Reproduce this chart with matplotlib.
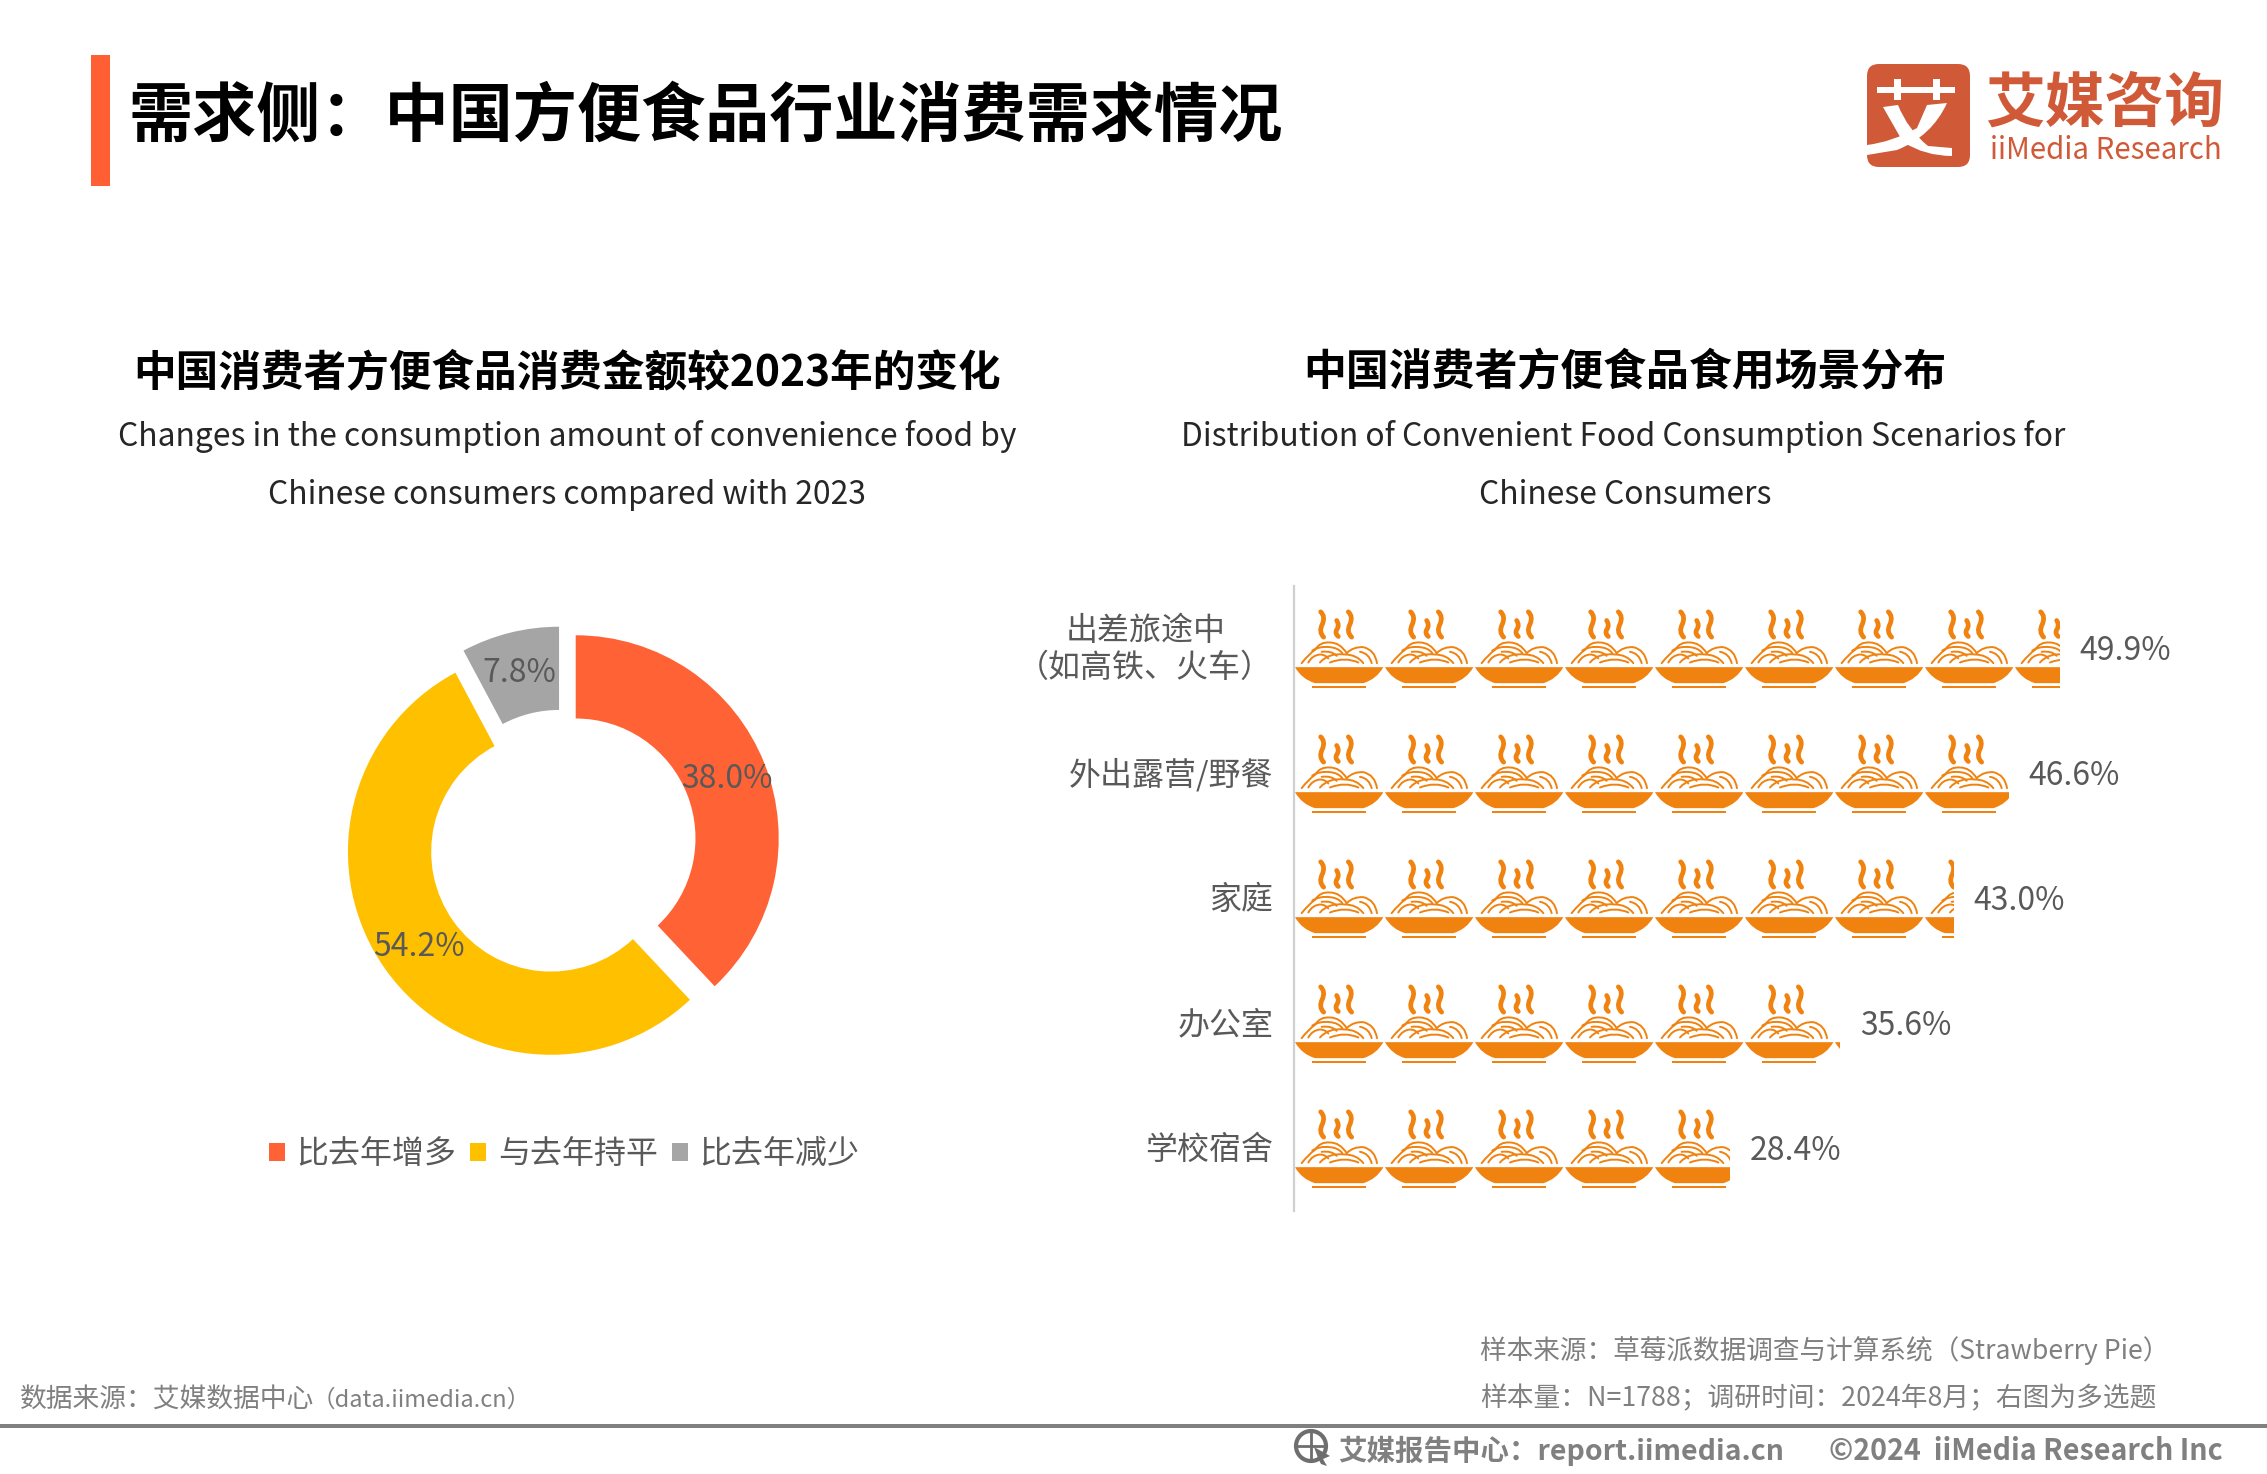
"""iiMedia slide: convenience food spending donut and scenario pictogram."""

import matplotlib
matplotlib.use("Agg")
import matplotlib.pyplot as plt
from matplotlib.patches import Circle, FancyBboxPatch, PathPatch, Rectangle
from matplotlib.path import Path
from matplotlib.transforms import Affine2D, ScaledTranslation

plt.rcParams["font.family"] = ["Noto Sans CJK SC", "DejaVu Sans"]

change_labels = ["比去年增多", "与去年持平", "比去年减少"]
change_values = [38.0, 54.2, 7.8]
change_colors = ["#FF6235", "#FFC000", "#A5A5A5"]

scene_labels = ["出差旅途中\n（如高铁、火车）", "外出露营/野餐", "家庭", "办公室", "学校宿舍"]
scene_values = [49.9, 46.6, 43.0, 35.6, 28.4]

W, H = 2267, 1474
ORANGE = "#F0820F"
GREY = "#595959"
FOOT = "#808080"
LOGO = "#D05A38"

fig = plt.figure(figsize=(W / 100, H / 100), dpi=100)

# page furniture is laid out in pixels
bg = fig.add_axes([0, 0, 1, 1])
bg.set_xlim(0, W)
bg.set_ylim(H, 0)
bg.axis("off")


def put(x, y, s, size, color="black", ha="left", weight="normal"):
    bg.text(x, y, s, fontsize=size, color=color, ha=ha, va="center", fontweight=weight)


bg.add_patch(Rectangle((91, 55), 19, 131, color="#FF5F33", lw=0))
put(129, 117, "需求侧：中国方便食品行业消费需求情况", 46.2, weight="bold")

put(567, 372, "中国消费者方便食品消费金额较2023年的变化", 30.7, ha="center", weight="bold")
put(567, 436, "Changes in the consumption amount of convenience food by", 22.95, "#262626", "center")
put(567, 495, "Chinese consumers compared with 2023", 22.95, "#262626", "center")
put(1625, 372, "中国消费者方便食品食用场景分布", 30.9, ha="center", weight="bold")
put(1623, 436, "Distribution of Convenient Food Consumption Scenarios for", 22.95, "#262626", "center")
put(1625, 495, "Chinese Consumers", 22.95, "#262626", "center")

# logo, the mark is a stylised glyph so it is traced instead of typeset
bg.add_patch(FancyBboxPatch((1875, 72), 87, 87, boxstyle="round,pad=8,rounding_size=12", color=LOGO, lw=0))
logo_shapes = [
    [(1877, 87), (1955, 87), (1955, 93), (1877, 93)],
    [(1894, 79), (1901, 79), (1901, 100), (1894, 100)],
    [(1933, 79), (1940, 79), (1940, 100), (1933, 100)],
]
for shape in logo_shapes:
    bg.add_patch(plt.Polygon(shape, color="white", lw=0))
swoosh_a = Path(
    [(1883, 107), (1898, 105), (1908, 130), (1928, 146), (1952, 148), (1952, 156),
     (1925, 156), (1903, 142), (1883, 107), (1883, 107)],
    [Path.MOVETO, Path.LINETO, Path.CURVE3, Path.CURVE3, Path.LINETO, Path.LINETO,
     Path.CURVE3, Path.CURVE3, Path.LINETO, Path.CLOSEPOLY],
)
swoosh_b = Path(
    [(1927, 105), (1947, 103), (1932, 136), (1897, 150), (1867, 155), (1867, 145),
     (1892, 142), (1917, 128), (1927, 105), (1927, 105)],
    [Path.MOVETO, Path.LINETO, Path.CURVE3, Path.CURVE3, Path.LINETO, Path.LINETO,
     Path.CURVE3, Path.CURVE3, Path.LINETO, Path.CLOSEPOLY],
)
bg.add_patch(PathPatch(swoosh_a, fc="white", lw=0))
bg.add_patch(PathPatch(swoosh_b, fc="white", lw=0))
put(1985, 105, "艾媒咨询", 43, LOGO, weight="bold")
put(1990, 150, "iiMedia Research", 21.2, LOGO)

# footer
put(20, 1400, "数据来源：艾媒数据中心", 19.3, FOOT)
put(312, 1400, "（data.iimedia.cn）", 17, FOOT)
put(1480, 1351, "样本来源：草莓派数据调查与计算系统（Strawberry Pie）", 19.2, FOOT)
put(1480, 1399, "样本量：N=1788；调研时间：2024年8月；右图为多选题", 19.25, FOOT)
bg.add_patch(Rectangle((0, 1424), W, 4, color=FOOT, lw=0))
put(1338, 1451, "艾媒报告中心：report.iimedia.cn", 20.5, FOOT, weight="bold")
put(1829, 1451, "©2024  iiMedia Research Inc", 20.6, FOOT, weight="bold")
bg.add_patch(Circle((1311, 1446), 15, fc="none", ec="#6E6E6E", lw=3))
bg.plot([1297, 1325], [1446, 1446], color="#6E6E6E", lw=2)
bg.plot([1311, 1311], [1431, 1461], color="#6E6E6E", lw=2)
bg.add_patch(plt.Polygon([(1314, 1447), (1330, 1456), (1323, 1459), (1327, 1466), (1321, 1464), (1318, 1458)],
                         color="#6E6E6E", lw=0))

# donut, pie keeps its +-1.25 limits so the axes size sets the radius
r_px = 203
box = 2.5 * r_px
donut = fig.add_axes([(562.5 - box / 2) / W, 1 - (843.5 + box / 2) / H, box / W, box / H])
wedges, _, pct = donut.pie(
    change_values, colors=change_colors, startangle=90, counterclock=False,
    explode=[0.07, 0.07, 0.07], autopct="%.1f%%", pctdistance=0.8,
    wedgeprops={"width": 0.41, "linewidth": 0},
    textprops={"fontsize": 23, "color": GREY},
)
for t in pct:
    tx, ty = t.get_position()
    t.set_position((tx, ty - 0.004))
fig.legend(
    wedges, change_labels, loc="center", bbox_to_anchor=(564 / W, 1 - 1154 / H), ncol=3,
    frameon=False, fontsize=23, labelcolor=GREY, handlelength=0.5, handleheight=0.5,
    handletextpad=0.37, columnspacing=0.43,
)

# pictogram, invisible bars carry the values and clip the repeated bowls
PX_PER_PCT = 15.35
ROW_PX = 125
ICON_PX = 90
pict = fig.add_axes([1294 / W, 1 - 1210.5 / H, 921 / W, 625 / H])
pict.set_xlim(0, 921 / PX_PER_PCT)
pict.set_ylim(len(scene_values) - 0.5, -0.5)
rows = list(range(len(scene_values)))
bars = pict.barh(rows, scene_values, height=1, color="none")
for side in ["top", "right", "bottom"]:
    pict.spines[side].set_visible(False)
pict.spines["left"].set_color("#D0D0D0")
pict.spines["left"].set_linewidth(1.6)
pict.set_xticks([])
pict.set_yticks(rows, scene_labels, fontsize=23, color=GREY, multialignment="center")
pict.tick_params(axis="y", length=0, pad=15)
for lab in pict.get_yticklabels():
    dy = 4.5 if "\n" in lab.get_text() else 1.5
    lab.set_transform(lab.get_transform() + ScaledTranslation(0, dy / 100, fig.dpi_scale_trans))


def curve(*pts):
    codes = [Path.MOVETO] + [Path.CURVE3] * (len(pts) - 1)
    return Path(pts, codes)


# glyph outline in icon units, origin at the bowl's top left corner
bowl = Path(
    [(0, 2), (265, 2), (245, 38), (205, 50), (60, 50), (20, 38), (0, 2), (0, 2)],
    [Path.MOVETO, Path.LINETO, Path.CURVE3, Path.CURVE3, Path.LINETO, Path.CURVE3, Path.CURVE3, Path.CLOSEPOLY],
)
foot = Path.unit_rectangle().transformed(Affine2D().scale(161, 6).translate(52, 57))
steam = [
    curve((77, -164), (92, -150), (82, -127), (70, -104), (86, -88)),
    curve((125, -138), (134, -124), (126, -112), (118, -100), (130, -90)),
    curve((160, -164), (175, -150), (165, -127), (153, -104), (170, -88)),
]
noodles = [
    curve((20, -10), (40, -36), (60, -50), (75, -75), (105, -72), (135, -72), (155, -40)),
    curve((52, -48), (75, -62), (105, -58), (130, -56), (142, -40)),
    curve((40, -12), (52, -34), (75, -36), (90, -36), (100, -24)),
    curve((75, -12), (100, -42), (150, -36), (185, -36), (205, -10)),
    curve((105, -12), (150, -30), (190, -12)),
    curve((155, -40), (175, -60), (205, -58), (240, -50), (246, -10)),
    curve((195, -44), (222, -40), (230, -10)),
    curve((80, -44), (110, -48), (125, -32)),
]

for bar, row, value in zip(bars, rows, scene_values):
    n = int(value * PX_PER_PCT // ICON_PX) + 1
    for i in range(n):
        to_data = (
            Affine2D().scale(1 / 3 / PX_PER_PCT, 1 / 3 / ROW_PX)
            .translate((i * ICON_PX + 1) / PX_PER_PCT, row + 18.5 / ROW_PX)
            + pict.transData
        )
        parts = [PathPatch(bowl, fc=ORANGE, lw=0), PathPatch(foot, fc=ORANGE, lw=0)]
        parts += [PathPatch(p, fc="none", ec=ORANGE, lw=3.4, capstyle="round") for p in steam]
        parts += [PathPatch(p, fc="none", ec=ORANGE, lw=1.4, capstyle="round") for p in noodles]
        for part in parts:
            part.set_transform(to_data)
            pict.add_patch(part)
            part.set_clip_path(bar)
    pict.annotate(f"{value:.1f}%", (value, row), xytext=(14, -2.2), textcoords="offset points",
                  fontsize=23, color=GREY, va="center")

fig.savefig("out.png", dpi=100, facecolor="white")
plt.close(fig)
